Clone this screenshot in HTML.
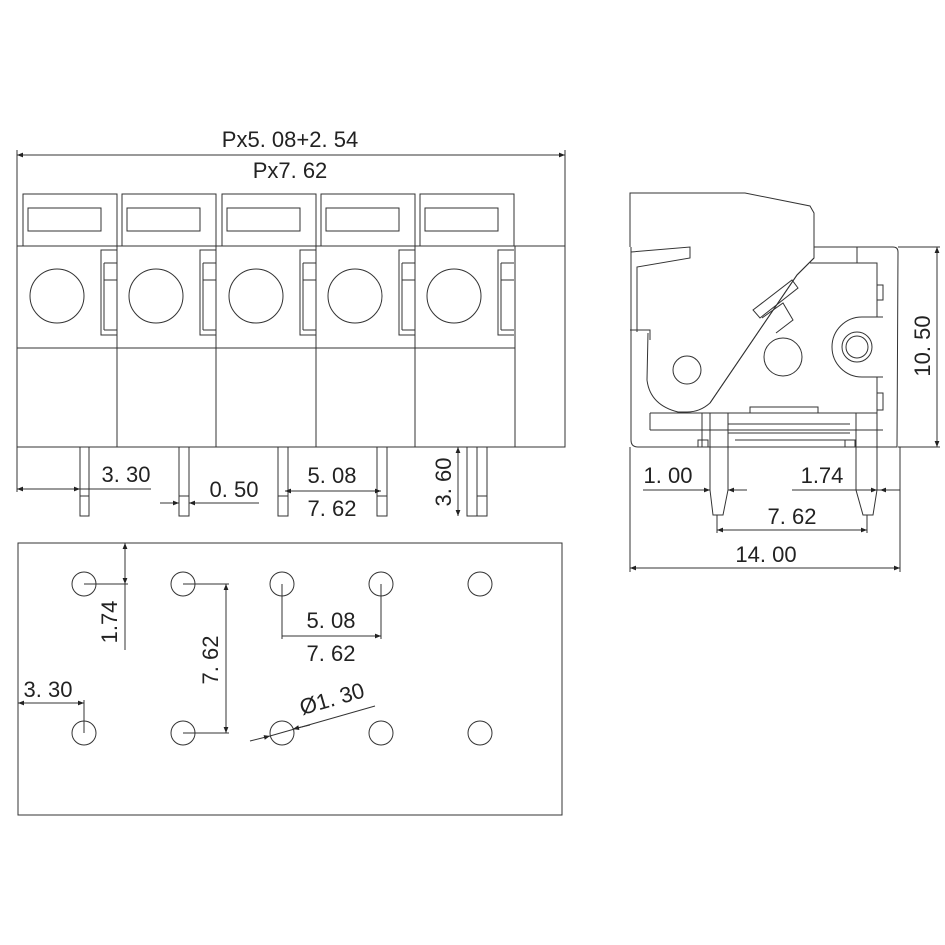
<!DOCTYPE html>
<html><head><meta charset="utf-8"><style>
html,body{margin:0;padding:0;background:#fff}
svg{display:block}
text{font-family:"Liberation Sans",sans-serif;fill:#222;font-size:22px}
</style></head><body>
<svg width="945" height="945" viewBox="0 0 945 945" xmlns="http://www.w3.org/2000/svg">
<defs>
<marker id="a" viewBox="0 0 10 10" refX="10" refY="5" markerWidth="9" markerHeight="6" orient="auto-start-reverse" markerUnits="userSpaceOnUse"><path d="M0,1 L10,5 L0,9 z" fill="#222"/></marker>
</defs>
<g stroke="#333" stroke-width="1" fill="none">
<!-- FRONT VIEW -->
<line x1="17" y1="155" x2="565" y2="155" marker-start="url(#a)" marker-end="url(#a)"/>
<line x1="17" y1="150" x2="17" y2="492"/>
<line x1="565" y1="150" x2="565" y2="447"/>
<g id="cap">
<rect x="23" y="194" width="94" height="52"/>
<rect x="28" y="208" width="73" height="23"/>
</g>
<use href="#cap" x="99"/><use href="#cap" x="199"/><use href="#cap" x="298"/><use href="#cap" x="397"/>
<rect x="17" y="246" width="548" height="201"/>
<line x1="17" y1="348" x2="515" y2="348"/>
<line x1="117" y1="246" x2="117" y2="447"/>
<line x1="216" y1="246" x2="216" y2="447"/>
<line x1="316" y1="246" x2="316" y2="447"/>
<line x1="415" y1="246" x2="415" y2="447"/>
<line x1="515" y1="246" x2="515" y2="447"/>
<circle cx="57" cy="296" r="27"/><circle cx="156" cy="296" r="27"/><circle cx="256" cy="296" r="27"/><circle cx="355" cy="296" r="27"/><circle cx="454" cy="296" r="27"/>
<g id="sl">
<polyline points="117,250 101,250 101,335 117,335"/>
<line x1="104" y1="263" x2="117" y2="263"/><line x1="104" y1="280" x2="117" y2="280"/>
<line x1="104" y1="263" x2="104" y2="330"/><line x1="104" y1="330" x2="117" y2="330"/>
</g>
<use href="#sl" x="99"/><use href="#sl" x="199"/><use href="#sl" x="298"/><use href="#sl" x="397"/>
<rect x="80" y="447" width="9" height="69"/><line x1="80" y1="496" x2="89" y2="496"/>
<rect x="179" y="447" width="10" height="69"/><line x1="179" y1="496" x2="189" y2="496"/>
<rect x="278" y="447" width="10" height="69"/><line x1="278" y1="496" x2="288" y2="496"/>
<rect x="377" y="447" width="10" height="69"/><line x1="377" y1="496" x2="387" y2="496"/>
<rect x="467" y="447" width="20" height="69"/><line x1="477" y1="447" x2="477" y2="516"/><line x1="477" y1="496" x2="487" y2="496"/>
<line x1="17" y1="489" x2="80" y2="489" marker-start="url(#a)" marker-end="url(#a)"/>
<line x1="80" y1="489" x2="151" y2="489"/>
<line x1="160" y1="503" x2="179" y2="503" marker-end="url(#a)"/>
<line x1="189" y1="503" x2="259" y2="503"/>
<line x1="205" y1="503" x2="189" y2="503" marker-end="url(#a)"/>
<line x1="285" y1="491" x2="381" y2="491" marker-start="url(#a)" marker-end="url(#a)"/>
<line x1="458" y1="447" x2="458" y2="516" marker-start="url(#a)" marker-end="url(#a)"/>
<!-- BOTTOM VIEW -->
<rect x="18" y="543" width="544" height="272"/>
<circle cx="84" cy="584" r="12"/><circle cx="183" cy="584" r="12"/><circle cx="282" cy="584" r="12"/><circle cx="381" cy="584" r="12"/><circle cx="480" cy="584" r="12"/>
<circle cx="84" cy="733" r="12"/><circle cx="183" cy="733" r="12"/><circle cx="282" cy="733" r="12"/><circle cx="381" cy="733" r="12"/><circle cx="480" cy="733" r="12"/>
<line x1="125" y1="543" x2="125" y2="584" marker-start="url(#a)" marker-end="url(#a)"/>
<line x1="125" y1="584" x2="125" y2="650"/>
<line x1="84" y1="584" x2="128" y2="584"/>
<line x1="183" y1="584" x2="229" y2="584"/><line x1="183" y1="733" x2="229" y2="733"/>
<line x1="226" y1="584" x2="226" y2="733" marker-start="url(#a)" marker-end="url(#a)"/>
<line x1="282" y1="584" x2="282" y2="639"/><line x1="381" y1="584" x2="381" y2="639"/>
<line x1="282" y1="636" x2="381" y2="636" marker-end="url(#a)"/>
<line x1="18" y1="703" x2="84" y2="703" marker-start="url(#a)" marker-end="url(#a)"/>
<line x1="84" y1="700" x2="84" y2="733"/>
<line x1="250" y1="741" x2="270" y2="736" marker-end="url(#a)"/>
<line x1="270" y1="736" x2="375" y2="706"/>
<line x1="310" y1="725" x2="293" y2="729" marker-end="url(#a)"/>
<!-- SIDE VIEW -->
<polyline points="630,247 630,193 745,193 810,206 814,213 814,258 797,275 710,403 C700,410 695,412 687,412"/>
<path d="M814,258 L797,275 L710,403 Q700,412 687,412 L678,412 Q650,405 647,380 L648,333"/>
<path d="M631,247 L631,440 Q631,447 638,447 L897,447 L898,252 Q898,247 893,247 L814,247"/>
<polyline points="631,252 690,247 690,258 637,267 637,332"/>
<polyline points="630,330 650,330 650,340"/>
<line x1="650" y1="413" x2="650" y2="430"/>
<line x1="650" y1="430" x2="883" y2="430"/>
<polyline points="810,263 877,263 877,317"/>
<line x1="877" y1="377" x2="877" y2="430"/>
<line x1="857" y1="247" x2="857" y2="263"/>
<rect x="877" y="285" width="6" height="15"/>
<rect x="877" y="393" width="6" height="17"/>
<path d="M883,317 L862,317 A30,30 0 0 0 862,377 L883,377"/>
<circle cx="857" cy="347" r="15"/><circle cx="857" cy="347" r="11"/>
<circle cx="687" cy="370" r="14"/>
<circle cx="783" cy="357" r="19"/>
<polygon points="753,310 792,280 798,288 760,318"/>
<polyline points="762,318 783,303 793,320 776,333"/>
<polyline points="702,413 702,447"/>
<polyline points="750,413 750,407 818,407 818,413"/>
<line x1="650" y1="413" x2="877" y2="413"/>
<polyline points="728,424 850,424"/>
<line x1="728" y1="433" x2="850" y2="433"/>
<line x1="735" y1="440" x2="845" y2="440"/>
<rect x="698" y="440" width="10" height="7"/>
<rect x="845" y="440" width="10" height="7"/>
<path d="M710,413 L710,490 L713,515 L723,515 L728,490 L728,413"/>
<path d="M856,413 L856,490 L863,515 L873,515 L877,490 L877,413"/>
<line x1="937" y1="247" x2="937" y2="447" marker-start="url(#a)" marker-end="url(#a)"/>
<line x1="898" y1="247" x2="940" y2="247"/><line x1="898" y1="447" x2="940" y2="447"/>
<line x1="630" y1="447" x2="630" y2="572"/><line x1="900" y1="447" x2="900" y2="572"/>
<line x1="630" y1="568" x2="900" y2="568" marker-start="url(#a)" marker-end="url(#a)"/>
<line x1="717" y1="515" x2="717" y2="533"/><line x1="867" y1="515" x2="867" y2="533"/>
<line x1="717" y1="530" x2="867" y2="530" marker-start="url(#a)" marker-end="url(#a)"/>
<line x1="643" y1="490" x2="710" y2="490" marker-end="url(#a)"/>
<line x1="747" y1="490" x2="728" y2="490" marker-end="url(#a)"/>
<line x1="792" y1="490" x2="877" y2="490" marker-end="url(#a)"/>
<line x1="900" y1="490" x2="877" y2="490"/>
<line x1="900" y1="490" x2="880" y2="490" marker-end="url(#a)"/>
</g>
<text x="290" y="147" text-anchor="middle">Px5. 08+2. 54</text>
<text x="290" y="178" text-anchor="middle">Px7. 62</text>
<text x="126" y="482" text-anchor="middle">3. 30</text>
<text x="234" y="497" text-anchor="middle">0. 50</text>
<text x="332" y="483" text-anchor="middle">5. 08</text>
<text x="332" y="516" text-anchor="middle">7. 62</text>
<text transform="translate(451,482) rotate(-90)" text-anchor="middle">3. 60</text>
<text transform="translate(117,622) rotate(-90)" text-anchor="middle">1.74</text>
<text transform="translate(218,660) rotate(-90)" text-anchor="middle">7. 62</text>
<text x="331" y="628" text-anchor="middle">5. 08</text>
<text x="331" y="661" text-anchor="middle">7. 62</text>
<text x="48" y="697" text-anchor="middle">3. 30</text>
<text transform="translate(334,706) rotate(-16)" text-anchor="middle">Ø1. 30</text>
<text x="668" y="483" text-anchor="middle">1. 00</text>
<text x="822" y="483" text-anchor="middle">1.74</text>
<text x="792" y="524" text-anchor="middle">7. 62</text>
<text x="766" y="562" text-anchor="middle">14. 00</text>
<text transform="translate(930,346) rotate(-90)" text-anchor="middle">10. 50</text>
</svg>
</body></html>
